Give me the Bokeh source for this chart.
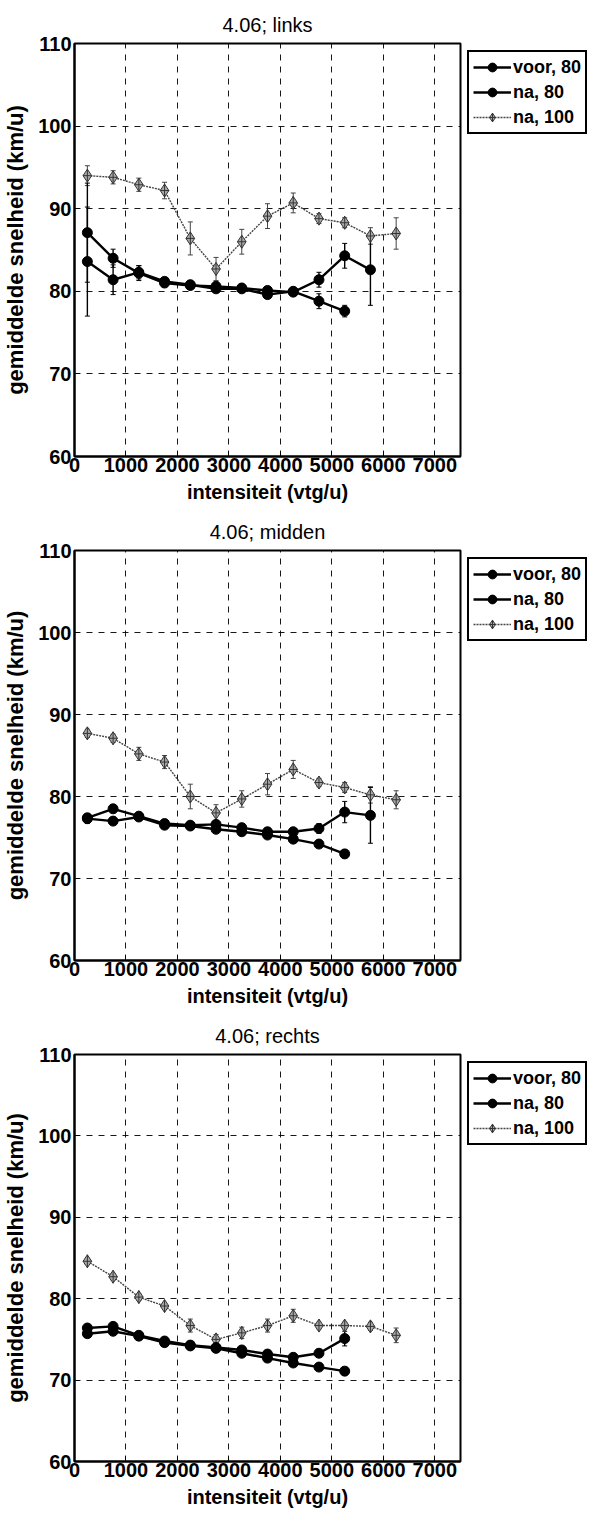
from bokeh.plotting import figure
from bokeh.models import (ColumnDataSource, Whisker, TeeHead, Legend, LegendItem,
                          FixedTicker, Range1d)
from bokeh.layouts import column
from bokeh.embed import file_html
from bokeh.resources import INLINE

FONT = "Liberation Sans"

# intensity bin centres (vtg/u)
x_bins = [250, 750, 1250, 1750, 2250, 2750, 3250, 3750, 4250, 4750, 5250, 5750, 6250]
x_ticks = [0, 1000, 2000, 3000, 4000, 5000, 6000, 7000]
y_ticks = [60, 70, 80, 90, 100, 110]
series_names = ["voor, 80", "na, 80", "na, 100"]
titles = ["4.06; links", "4.06; midden", "4.06; rechts"]

# --- 4.06; links ---
links_voor80 = [83.6, 81.4, 82.3, 81.2, 80.8, 80.3, 80.3, 79.6, 80.0, 78.8, 77.6]
links_voor80_err = [6.6, 1.8, 0.8, 0.5, 0.4, 0.4, 0.4, 0.4, 0.4, 0.9, 0.7]
links_na80 = [87.1, 84.0, 82.2, 81.0, 80.7, 80.6, 80.4, 80.1, 79.9, 81.4, 84.3, 82.6]
links_na80_err = [6.0, 1.1, 0.9, 0.5, 0.4, 0.5, 0.4, 0.4, 0.4, 0.9, 1.5, 4.3]
links_na100 = [94.0, 93.8, 92.9, 92.2, 86.4, 82.7, 86.0, 89.1, 90.7, 88.8, 88.3, 86.7, 87.0]
links_na100_err = [1.2, 0.8, 0.8, 1.0, 2.0, 1.4, 1.5, 1.5, 1.2, 0.6, 0.6, 1.0, 1.9]

# --- 4.06; midden ---
midden_voor80 = [77.3, 77.0, 77.5, 76.5, 76.4, 76.0, 75.7, 75.3, 74.8, 74.2, 73.0]
midden_voor80_err = [0.6, 0.4, 0.4, 0.4, 0.3, 0.3, 0.3, 0.3, 0.3, 0.4, 0.5]
midden_na80 = [77.4, 78.5, 77.6, 76.7, 76.5, 76.6, 76.2, 75.7, 75.7, 76.1, 78.1, 77.7]
midden_na80_err = [0.5, 0.5, 0.4, 0.4, 0.3, 0.4, 0.4, 0.4, 0.4, 0.6, 1.3, 3.4]
midden_na100 = [87.7, 87.1, 85.2, 84.2, 80.0, 78.0, 79.7, 81.5, 83.3, 81.7, 81.1, 80.2, 79.6]
midden_na100_err = [0.5, 0.5, 0.8, 0.8, 1.5, 1.0, 1.0, 1.3, 1.1, 0.5, 0.6, 1.0, 1.1]

# --- 4.06; rechts ---
rechts_voor80 = [75.7, 76.0, 75.4, 74.6, 74.2, 73.9, 73.3, 72.7, 72.1, 71.6, 71.1]
rechts_voor80_err = [0.4, 0.4, 0.3, 0.3, 0.3, 0.3, 0.3, 0.3, 0.3, 0.3, 0.5]
rechts_na80 = [76.4, 76.6, 75.5, 74.8, 74.3, 74.0, 73.7, 73.2, 72.8, 73.3, 75.1]
rechts_na80_err = [0.4, 0.4, 0.3, 0.3, 0.3, 0.3, 0.3, 0.3, 0.3, 0.4, 0.9]
rechts_na100 = [84.6, 82.7, 80.2, 79.1, 76.7, 75.0, 75.8, 76.7, 77.9, 76.7, 76.7, 76.6, 75.5]
rechts_na100_err = [0.4, 0.4, 0.4, 0.4, 0.8, 0.6, 0.7, 0.8, 0.8, 0.4, 0.4, 0.5, 0.9]

BLACK = dict(line_color="black", line_width=2.4, line_dash="solid",
             marker="circle", m_fill="black", m_line="black", m_size=10)
GRAY = dict(line_color="#444444", line_width=1.4, line_dash="2 1",
            marker="diamond_cross", m_fill="#aaaaaa", m_line="#333333", m_size=13)

panels = [
    dict(title=titles[0],
         series=[(links_voor80, links_voor80_err, BLACK),
                 (links_na80, links_na80_err, BLACK),
                 (links_na100, links_na100_err, GRAY)],
         gap=3, frame_h=413),
    dict(title=titles[1],
         series=[(midden_voor80, midden_voor80_err, BLACK),
                 (midden_na80, midden_na80_err, BLACK),
                 (midden_na100, midden_na100_err, GRAY)],
         gap=5, frame_h=410),
    dict(title=titles[2],
         series=[(rechts_voor80, rechts_voor80_err, BLACK),
                 (rechts_na80, rechts_na80_err, BLACK),
                 (rechts_na100, rechts_na100_err, GRAY)],
         gap=5, frame_h=407),
]

FRAME_W = 386
LEG_MARGIN = 7


def make_panel(cfg):
    p = figure(frame_width=FRAME_W, frame_height=cfg["frame_h"],
               x_range=Range1d(0, 7500), y_range=Range1d(60, 110),
               output_backend="svg", toolbar_location=None,
               min_border_left=0, min_border_right=0,
               min_border_top=0, min_border_bottom=0)
    p.margin = (cfg["gap"], 0, 0, 0)
    p.title.text = cfg["title"]
    p.title.align = "center"
    p.title.text_font = FONT
    p.title.text_font_size = "20px"
    p.title.text_font_style = "normal"
    p.title.text_color = "black"
    p.title.standoff = 16

    p.outline_line_color = "black"
    p.outline_line_width = 2
    p.outline_line_alpha = 1

    p.xaxis.ticker = FixedTicker(ticks=x_ticks)
    p.yaxis.ticker = FixedTicker(ticks=y_ticks)
    for ax in (p.xaxis, p.yaxis):
        ax.major_label_text_font = FONT
        ax.major_label_text_font_size = "20px"
        ax.major_label_text_font_style = "bold"
        ax.major_label_text_color = "black"
        ax.axis_label_text_font = FONT
        ax.axis_label_text_font_size = "20px"
        ax.axis_label_text_font_style = "bold"
        ax.axis_label_text_color = "black"
        ax.axis_line_width = 2
        ax.axis_line_color = "black"
        ax.major_tick_in = 5
        ax.major_tick_out = 0
        ax.minor_tick_line_color = None
    p.xaxis.axis_label = "intensiteit (vtg/u)"
    p.yaxis.axis_label = "gemiddelde snelheid (km/u)"
    p.yaxis.axis_label_text_font_size = "22px"
    p.xaxis.major_label_standoff = 1
    p.xaxis.axis_label_standoff = 6
    p.yaxis.major_label_standoff = 3
    p.yaxis.axis_label_standoff = 7

    p.grid.grid_line_color = "black"
    p.grid.grid_line_dash = "6 6"
    p.grid.grid_line_width = 1
    p.grid.grid_line_alpha = 0.9

    legend_renderers = {}
    for i in [2, 0, 1]:
        vals, errs, st = cfg["series"][i]
        xs = x_bins[:len(vals)]
        src = ColumnDataSource(dict(x=xs, y=vals,
                                    lo=[v - e for v, e in zip(vals, errs)],
                                    hi=[v + e for v, e in zip(vals, errs)]))
        ecol = st["line_color"]
        w = Whisker(source=src, base="x", lower="lo", upper="hi",
                    line_color=ecol, line_width=1.4 if st is BLACK else 1.0,
                    upper_head=TeeHead(size=5, line_color=ecol, line_width=1),
                    lower_head=TeeHead(size=5, line_color=ecol, line_width=1))
        p.add_layout(w)
        r1 = p.line("x", "y", source=src, line_color=st["line_color"],
                    line_width=st["line_width"], line_dash=st["line_dash"])
        r2 = p.scatter("x", "y", source=src, marker=st["marker"], size=st["m_size"],
                       fill_color=st["m_fill"], line_color=st["m_line"], line_width=1)
        legend_renderers[i] = [r1, r2]

    items = [LegendItem(label=series_names[i], renderers=legend_renderers[i])
             for i in range(3)]
    leg = Legend(items=items, location="top_left")
    leg.label_text_font = FONT
    leg.label_text_font_size = "18px"
    leg.label_text_font_style = "bold"
    leg.label_text_color = "black"
    leg.border_line_color = "black"
    leg.border_line_width = 2
    leg.border_line_alpha = 1
    leg.glyph_width = 38
    leg.glyph_height = 22
    leg.label_height = 22
    leg.label_standoff = 2
    leg.spacing = 3
    leg.padding = 4
    leg.margin = LEG_MARGIN
    leg.background_fill_alpha = 1
    p.add_layout(leg, "right")
    return p


figs = [make_panel(c) for c in panels]
layout = column(*figs, spacing=0)

open("out.html", "w").write(file_html(layout, INLINE))
